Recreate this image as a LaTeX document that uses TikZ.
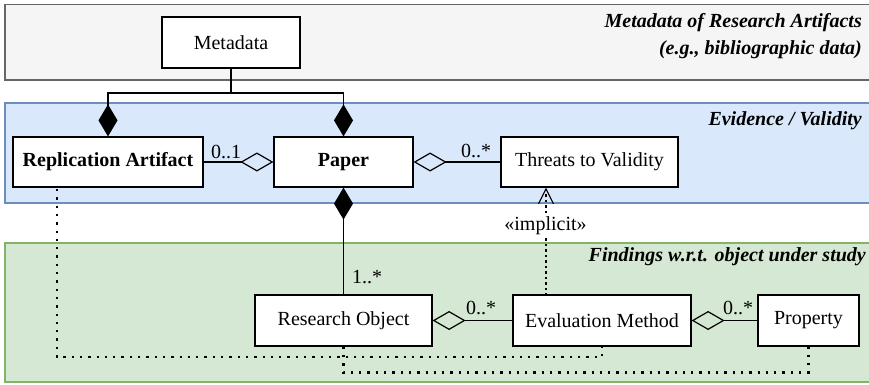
\documentclass[tikz,border=0pt]{standalone}
\usepackage{fontspec}
\setmainfont{Liberation Serif}
\usetikzlibrary{arrows.meta}
\definecolor{grayfill}{HTML}{F5F5F5}
\definecolor{grayline}{HTML}{666666}
\definecolor{bluefill}{HTML}{DAE8FC}
\definecolor{blueline}{HTML}{6C8EBF}
\definecolor{greenfill}{HTML}{D5E8D4}
\definecolor{greenline}{HTML}{82B366}
\begin{document}
\begin{tikzpicture}[x=1pt,y=-1pt,
  font=\fontsize{20}{24}\selectfont,
  bandbox/.style={line width=1.2pt},
  cls/.style={draw, fill=white, line width=1.2pt, inner sep=0pt},
  bandtitle/.style={font=\fontsize{20}{24}\selectfont\bfseries\itshape, anchor=base east, inner sep=0pt},
  mult/.style={anchor=base west, inner sep=0pt},
  comp/.style={line width=1.2pt, -{Diamond[length=32pt,width=19pt]}},
  compstart/.style={line width=1.2pt, {Diamond[length=32pt,width=19pt]}-},
  agg/.style={line width=1.2pt, -{Diamond[open,length=33pt,width=19pt]}},
  aggstart/.style={line width=1.2pt, {Diamond[open,length=33pt,width=19pt]}-},
  implicitdep/.style={line width=1.1pt, dash pattern=on 2.5pt off 3pt, -{Straight Barb[length=15pt,width=15pt]}},
  dotconn/.style={line width=2.3pt, dash pattern=on 2.3pt off 6pt}
]
\useasboundingbox (0,0) rectangle (869,385);

% bands
\draw[bandbox, draw=grayline, fill=grayfill] (5,4.5) rectangle (885,80);
\draw[bandbox, draw=blueline, fill=bluefill] (5,103) rectangle (885,203);
\draw[bandbox, draw=greenline, fill=greenfill] (5,243) rectangle (885,382);

% band titles
\node[bandtitle] (t1) at (862,28) {Metadata of Research Artifacts};
\node[bandtitle] (t2) at (862,55) {(e.g., bibliographic data)};
\node[bandtitle] (t3) at (862,125) {Evidence / Validity};
\node[bandtitle] (t4) at (866,261) {Findings w.r.t. object under study};

% classes
\node[cls, minimum width=138pt, minimum height=51pt] (meta) at (231,42.5) {Metadata};
\node[cls, minimum width=190pt, minimum height=50pt, font=\fontsize{20}{24}\selectfont\bfseries] (ra) at (108,162) {Replication Artifact};
\node[cls, minimum width=139pt, minimum height=50pt, font=\fontsize{20}{24}\selectfont\bfseries] (paper) at (343.5,162) {Paper};
\node[cls, minimum width=177pt, minimum height=50pt] (threats) at (589.5,162) {Threats to Validity};
\node[cls, minimum width=177pt, minimum height=51pt] (ro) at (343.5,320.5) {Research Object};
\node[cls, minimum width=178pt, minimum height=51pt] (em) at (602,320.5) {Evaluation Method};
\node[cls, minimum width=101pt, minimum height=51pt] (prop) at (808.5,320.5) {Property};

% composition from metadata
\coordinate (j) at (231,93);
\draw[comp] (meta.south) -- (j) -| (ra.north);
\draw[comp] (j) -| (paper.north);

% associations
\draw[compstart] (paper.south) -- (ro.north);
\draw[agg] (ra.east) -- (paper.west);
\draw[aggstart] (paper.east) -- (threats.west);
\draw[aggstart] (ro.east) -- (em.west);
\draw[aggstart] (em.east) -- (prop.west);

% multiplicities
\node[mult] (m1) at (211,158) {0..1};
\node[mult] (m2) at (461,157) {0..*};
\node[mult] (m3) at (352,283) {1..*};
\node[mult] (m4) at (466,314) {0..*};
\node[mult] (m5) at (723,314) {0..*};

% implicit dependency
\coordinate (imp) at (546,295.5);
\draw[implicitdep] (imp) -- (imp |- threats.south);
\node[fill=white, inner sep=1pt] (impl) at (545.5,226) {«implicit»};

% dotted traces
\coordinate (raD) at (57,189);
\draw[dotconn] (raD) -- (57,357) -| (em.south);
\draw[dotconn] (ro.south) -- (343.5,372.5) -| (prop.south);
\end{tikzpicture}
\end{document}
